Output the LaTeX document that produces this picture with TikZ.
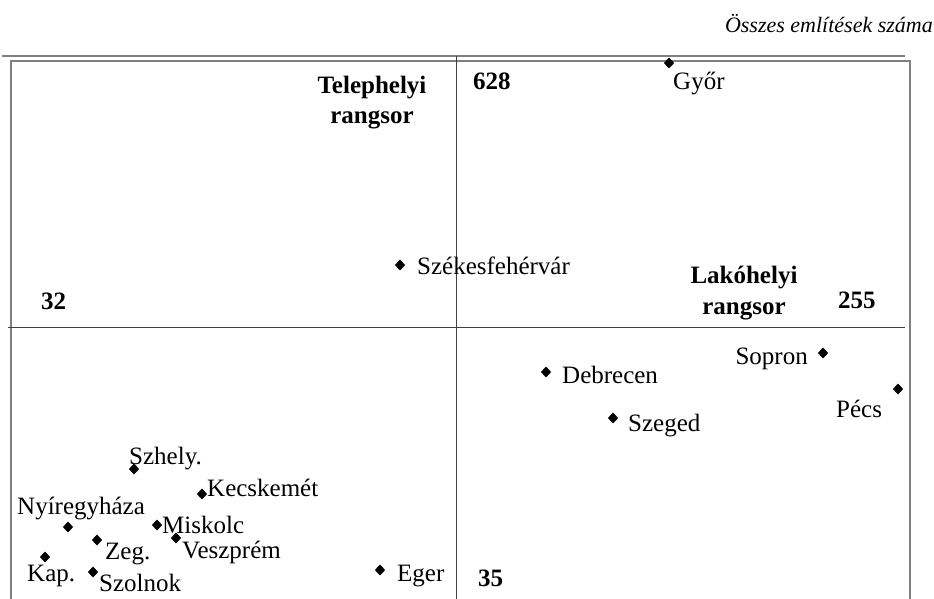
\documentclass[tikz,border=0pt]{standalone}
\usepackage{fontspec}
\setmainfont{Liberation Serif}
\usetikzlibrary{shapes.geometric}
\begin{document}
\begin{tikzpicture}[x=1pt,y=-1pt,
  lbl/.style={anchor=base west,inner sep=0pt,font=\fontsize{25}{28}\selectfont},
  lble/.style={anchor=base east,inner sep=0pt,font=\fontsize{25}{28}\selectfont},
  bld/.style={anchor=base west,inner sep=0pt,font=\fontsize{25}{28}\selectfont\bfseries},
  bldc/.style={anchor=base,inner sep=0pt,font=\fontsize{25}{28}\selectfont\bfseries},
  dot/.style={diamond,fill=black,inner sep=0pt,minimum width=10.5pt,minimum height=11pt},
  framel/.style={draw=black!50,line width=1.5pt},
  topl/.style={draw=black!50,line width=2pt},
  axis/.style={draw=black!75,line width=1.1pt}]
\useasboundingbox (0,0) rectangle (934,598);
\clip (0,0) rectangle (934,598);
% frame and lines
\coordinate (tl) at (2,56);  \coordinate (tr) at (905,56);
\coordinate (fa) at (11,61); \coordinate (fb) at (910,61);
\coordinate (fc) at (11,620); \coordinate (fd) at (910,620);
\draw[framel] (fc) -- (fa) -- (fb) -- (fd);
\draw[topl] (tl) -- (tr);
\coordinate (vt) at (456.5,56); \coordinate (vb) at (456.5,620);
\coordinate (hl) at (8,327.5); \coordinate (hr) at (905,327.5);
\draw[axis] (vt) -- (vb);
\draw[axis] (hl) -- (hr);
% header
\node[anchor=base east,inner sep=0pt,font=\fontsize{22}{26}\selectfont\itshape] (title) at (933,32) {Összes említések száma};
% bold labels
\node[bldc] (tel1) at (372,93) {Telephelyi};
\node[bldc] (tel2) at (372,123) {rangsor};
\node[bld] (n628) at (473,89) {628};
\node[bld] (n32) at (41,309) {32};
\node[bldc] (lak1) at (744,283) {Lakóhelyi};
\node[bldc] (lak2) at (744,314) {rangsor};
\node[bld] (n255) at (838,308) {255};
\node[bld] (n35) at (478,586) {35};
% points
\node[dot] (pgyor) at (669,63) {};
\node[lbl] (tgyor) at (673,89) {Győr};
\node[dot] (psze) at (400,265) {};
\node[lbl] (tsze) at (417,274) {Székesfehérvár};
\node[dot] (psop) at (823,353) {};
\node[lble] (tsop) at (808,364) {Sopron};
\node[dot] (pdeb) at (546,372) {};
\node[lbl] (tdeb) at (562,383) {Debrecen};
\node[dot] (ppec) at (898,389) {};
\node[lbl] (tpec) at (836,417) {Pécs};
\node[dot] (pszeg) at (613,418) {};
\node[lbl] (tszeg) at (628,431) {Szeged};
\node[dot] (pszh) at (134,469) {};
\node[lbl] (tszh) at (129,464) {Szhely.};
\node[dot] (pkec) at (202,494) {};
\node[lbl] (tkec) at (207,496) {Kecskemét};
\node[dot] (pnyi) at (68,527) {};
\node[lbl] (tnyi) at (17,514) {Nyíregyháza};
\node[dot] (pmis) at (157,525) {};
\node[lbl] (tmis) at (162,533) {Miskolc};
\node[dot] (pves) at (176,538) {};
\node[lbl] (tves) at (182,558) {Veszprém};
\node[dot] (pzeg) at (97,540) {};
\node[lbl] (tzeg) at (105,559) {Zeg.};
\node[dot] (pkap) at (45,557) {};
\node[lbl] (tkap) at (27,581) {Kap.};
\node[dot] (pszo) at (93,572) {};
\node[lbl] (tszo) at (99,591) {Szolnok};
\node[dot] (peger) at (380,570) {};
\node[lbl] (teger) at (397,581) {Eger};
\end{tikzpicture}
\end{document}
